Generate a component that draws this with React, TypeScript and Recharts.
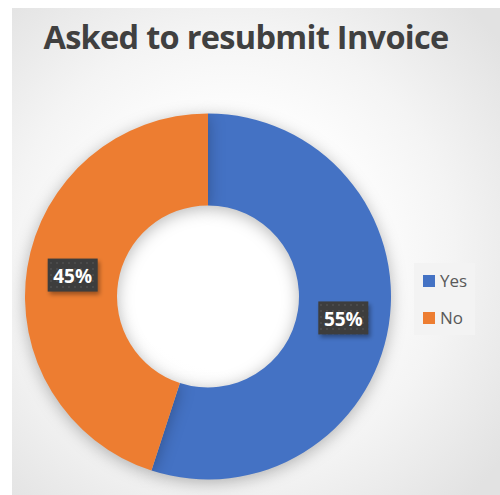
import React from 'react';
import { PieChart, Pie, Cell, Legend } from 'recharts';

const categories = ['Yes', 'No'];
const values = [55, 45];
const colors = ['#4472C4', '#ED7D31'];
const title = 'Asked to resubmit Invoice';

const data = categories.map((name, i) => ({ name, value: values[i] }));

const RAD = Math.PI / 180;

const renderLabel = (props: any) => {
  const { cx, cy, midAngle, innerRadius, outerRadius, percent } = props;
  const r = (innerRadius + outerRadius) / 2;
  const x = cx + r * Math.cos(-midAngle * RAD);
  const y = cy + r * Math.sin(-midAngle * RAD);
  const w = 50;
  const h = 33;
  return (
    <g>
      <rect x={x - w / 2 + 2} y={y - h / 2 + 3} width={w} height={h} fill="rgba(0,0,0,0.35)" filter="url(#lblBlur)" />
      <rect x={x - w / 2} y={y - h / 2} width={w} height={h} fill="url(#lblDots)" />
      <text
        x={x}
        y={y + 1}
        textAnchor="middle"
        dominantBaseline="central"
        fill="#ffffff"
        fontFamily="'Open Sans', sans-serif"
        fontWeight={700}
        fontSize={19}
      >
        {`${Math.round(percent * 100)}%`}
      </text>
    </g>
  );
};

const renderLegend = () => (
  <div
    style={{
      width: 61,
      height: 72,
      background: '#f3f3f3',
      position: 'relative',
      fontFamily: "'Open Sans', sans-serif",
      fontSize: 17,
      color: '#595959',
    }}
  >
    {categories.map((c, i) => (
      <div key={c} style={{ position: 'absolute', left: 9, top: 12 + i * 37, height: 12, display: 'flex', alignItems: 'center' }}>
        <div style={{ width: 12, height: 12, background: colors[i] }} />
        <span style={{ marginLeft: 5, lineHeight: '12px' }}>{c}</span>
      </div>
    ))}
  </div>
);

export default function App() {
  return (
    <div
      style={{
        position: 'absolute',
        left: 12,
        top: 8,
        width: 488,
        height: 487,
        background: 'radial-gradient(ellipse 70% 70% at 45% 50%, #ffffff 35%, #f4f4f4 65%, #e2e2e2 100%)',
        overflow: 'hidden',
      }}
    >
      <style>{`.recharts-pie-sector { filter: drop-shadow(0px 3px 8px rgba(0,0,0,0.28)); }`}</style>
      <svg width={0} height={0} style={{ position: 'absolute' }}>
        <defs>
          <pattern id="lblDots" width="6" height="6" patternUnits="userSpaceOnUse">
            <rect width="6" height="6" fill="#3d3d3d" />
            <circle cx="3" cy="3" r="1" fill="#4e4e4e" />
          </pattern>
          <filter id="lblBlur" x="-30%" y="-30%" width="160%" height="160%">
            <feGaussianBlur stdDeviation="2" />
          </filter>
        </defs>
      </svg>
      <svg width={488} height={70} style={{ position: 'absolute', left: 0, top: 0 }}>
        <text
          x={234}
          y={41}
          textAnchor="middle"
          fontFamily="'Open Sans', sans-serif"
          fontWeight={700}
          fontSize={32.5}
          letterSpacing={-0.7}
          fill="#404040"
        >
          {title}
        </text>
      </svg>
      <div style={{ position: 'absolute', left: 0, top: 0 }}>
        <PieChart width={488} height={487} margin={{ top: 0, right: 0, bottom: 0, left: 0 }}>
          <Pie
            data={data}
            dataKey="value"
            nameKey="name"
            cx={196}
            cy={288.5}
            innerRadius={91}
            outerRadius={183}
            startAngle={90}
            endAngle={-270}
            stroke="none"
            label={renderLabel}
            labelLine={false}
            isAnimationActive={false}
          >
            {data.map((d, i) => (
              <Cell key={d.name} fill={colors[i]} />
            ))}
          </Pie>
          <Legend
            layout="vertical"
            align="right"
            verticalAlign="middle"
            content={renderLegend}
            wrapperStyle={{ position: 'absolute', left: 402, top: 255, width: 61, height: 72, right: 'auto', bottom: 'auto' }}
          />
        </PieChart>
      </div>
    </div>
  );
}
